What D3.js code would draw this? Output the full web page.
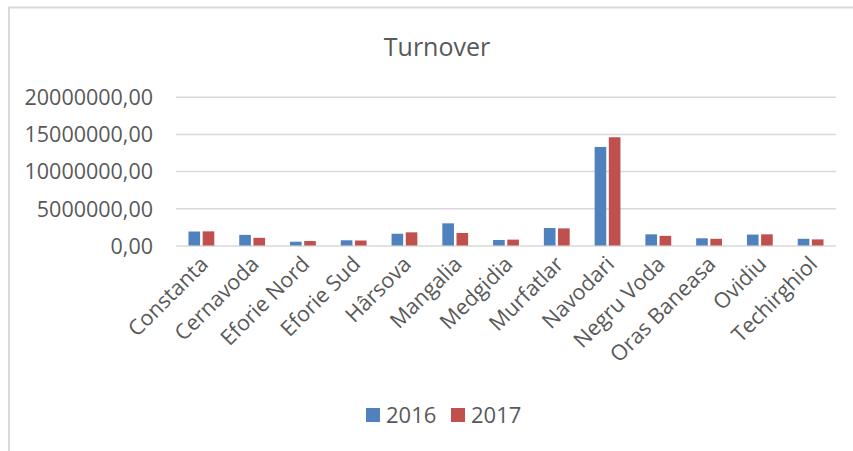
<!DOCTYPE html>
<html>
<head>
<meta charset="utf-8">
<script src="https://cdn.jsdelivr.net/npm/d3@7"></script>
<style>
  html, body { margin: 0; padding: 0; background: #fff; }
  svg { display: block; }
  text { font-family: "Open Sans", "Noto Sans", sans-serif; fill: #595959; }
</style>
</head>
<body>
<svg id="chart" width="853" height="451"></svg>
<script>
const categories = ["Constanta", "Cernavoda", "Eforie Nord", "Eforie Sud", "Hârsova", "Mangalia",
  "Medgidia", "Murfatlar", "Navodari", "Negru Voda", "Oras Baneasa", "Ovidiu", "Techirghiol"];
const seriesNames = ["2016", "2017"];
const values2016 = [1880000, 1430000, 510000, 700000, 1580000, 2980000, 740000, 2350000, 13250000, 1500000, 970000, 1470000, 900000];
const values2017 = [1900000, 1030000, 600000, 670000, 1770000, 1680000, 790000, 2300000, 14550000, 1300000, 900000, 1500000, 820000];
const yTicks = [0, 5000000, 10000000, 15000000, 20000000];
const colors = ["#4f81bd", "#c0504d"];

const svg = d3.select("#chart");
const W = 853, H = 451;
const plotL = 176, plotR = 836, plotT = 96.7, plotB = 245.5;

// chart frame
svg.append("line").attr("x1", 8).attr("x2", W).attr("y1", 7.5).attr("y2", 7.5)
  .attr("stroke", "#d9d9d9").attr("stroke-width", 2);
svg.append("line").attr("x1", 9).attr("x2", 9).attr("y1", 7).attr("y2", H)
  .attr("stroke", "#d9d9d9").attr("stroke-width", 2);

// title
svg.append("text").attr("x", 437).attr("y", 56).attr("text-anchor", "middle")
  .style("font-size", "25px").text("Turnover");

const x0 = d3.scaleBand().domain(categories).range([plotL, plotR]).padding(0);
const x1 = d3.scaleBand().domain(seriesNames).range([0, x0.bandwidth()])
  .paddingInner(0.18).paddingOuter(0.88);
const y = d3.scaleLinear().domain([0, 20000000]).range([plotB, plotT]);

const locale = d3.formatLocale({ decimal: ",", thousands: "", grouping: [3], currency: ["", ""] });
const fmt = locale.format(".2f");

// grid + y labels
const yAxis = d3.axisLeft(y).tickValues(yTicks).tickFormat(fmt).tickSize(-(plotR - plotL)).tickPadding(23);
const gy = svg.append("g").attr("transform", `translate(${plotL},0)`).call(yAxis);
gy.select(".domain").remove();
gy.selectAll(".tick line").attr("stroke", "#d9d9d9").attr("stroke-width", 1.5);
gy.selectAll(".tick text").style("font-size", "21.5px").attr("fill", "#595959")
  .attr("dy", "0.36em");

// bars
const data = categories.map((c, i) => ({ c, vals: [values2016[i], values2017[i]] }));
const groups = svg.append("g").selectAll("g").data(data).join("g")
  .attr("transform", d => `translate(${x0(d.c)},0)`);
groups.selectAll("rect").data(d => d.vals.map((v, k) => ({ v, k })))
  .join("rect")
  .attr("x", d => x1(seriesNames[d.k]))
  .attr("width", x1.bandwidth())
  .attr("y", d => y(d.v))
  .attr("height", d => y(0) - y(d.v))
  .attr("fill", d => colors[d.k]);

// x axis labels
const xAxis = d3.axisBottom(x0).tickSize(0).tickPadding(0);
const gx = svg.append("g").attr("transform", `translate(0,${plotB})`).call(xAxis);
gx.select(".domain").remove();
gx.selectAll(".tick text")
  .style("font-size", "21.5px").attr("fill", "#595959")
  .attr("text-anchor", "end")
  .attr("dy", null).attr("y", null)
  .attr("transform", "translate(8,20) rotate(-45)");

// legend
const leg = svg.append("g");
const legX = [366, 451];
seriesNames.forEach((s, k) => {
  leg.append("rect").attr("x", legX[k]).attr("y", 408).attr("width", 14).attr("height", 14).attr("fill", colors[k]);
  leg.append("text").attr("x", legX[k] + 20).attr("y", 422.5).style("font-size", "22px").text(s);
});
</script>
</body>
</html>
